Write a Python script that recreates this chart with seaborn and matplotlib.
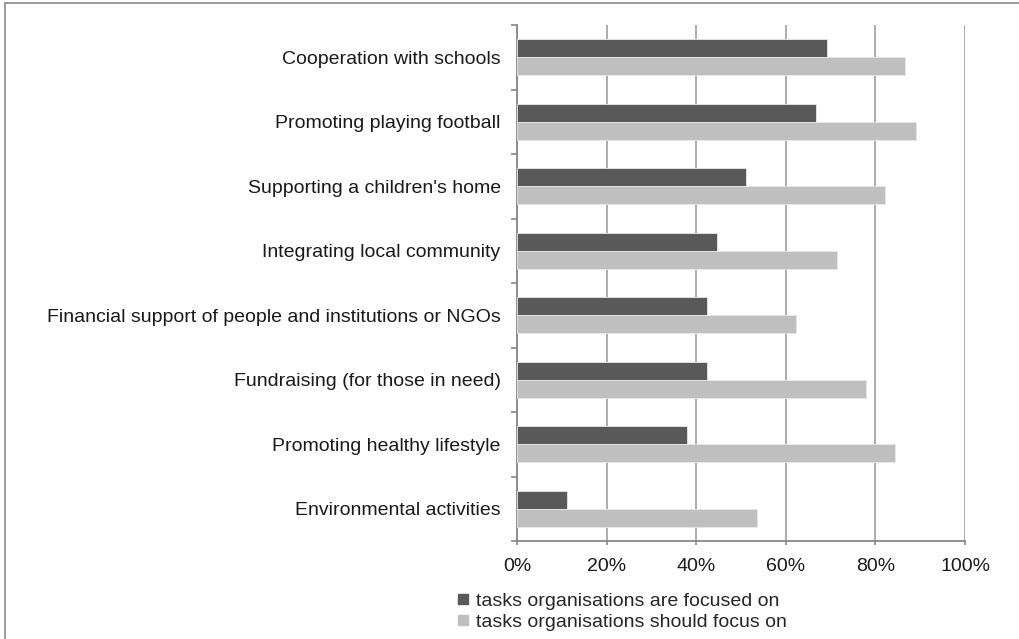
import matplotlib
matplotlib.use("Agg")
import matplotlib.pyplot as plt
import seaborn as sns
import pandas as pd
from matplotlib.lines import Line2D
from matplotlib.ticker import FixedLocator, PercentFormatter

categories = [
    "Cooperation with schools",
    "Promoting playing football",
    "Supporting a children's home",
    "Integrating local community",
    "Financial support of people and institutions or NGOs",
    "Fundraising (for those in need)",
    "Promoting healthy lifestyle",
    "Environmental activities",
]
focused_on = [69.1, 66.7, 51.1, 44.5, 42.4, 42.4, 38.0, 11.1]
should_focus_on = [86.6, 89.0, 82.2, 71.3, 62.3, 77.9, 84.4, 53.5]
series_names = ["tasks organisations are focused on",
                "tasks organisations should focus on"]
x_ticks = [0, 20, 40, 60, 80, 100]

df = pd.DataFrame({
    "category": categories * 2,
    "value": focused_on + should_focus_on,
    "series": [series_names[0]] * len(categories) + [series_names[1]] * len(categories),
})

sns.set_theme(style="white")
plt.rcParams["font.family"] = ["Liberation Sans", "DejaVu Sans"]
FS = 14

fig = plt.figure(figsize=(10.19, 6.39), dpi=100)
ax = fig.add_axes([517.3 / 1019, 1 - 541 / 639, (965 - 517.3) / 1019, (541 - 25) / 639])

palette = {series_names[0]: "#595959", series_names[1]: "#bfbfbf"}
sns.barplot(data=df, y="category", x="value", hue="series", order=categories,
            hue_order=series_names, palette=palette, orient="h", width=0.56,
            saturation=1, edgecolor="#e8e8e8", linewidth=0.6, ax=ax, zorder=3)

ax.set_xlim(0, 100)
ax.set_ylim(len(categories) - 0.5, -0.5)
ax.xaxis.set_major_locator(FixedLocator(x_ticks))
ax.xaxis.set_major_formatter(PercentFormatter(decimals=0))
ax.grid(axis="x", color="#a6a6a6", linewidth=1.3, zorder=0)
ax.grid(axis="y", visible=False)
ax.set_axisbelow(True)
ax.set_xlabel("")
ax.set_ylabel("")

for s in ["top", "right"]:
    ax.spines[s].set_visible(False)
for s in ["left", "bottom"]:
    ax.spines[s].set_color("#888888")
    ax.spines[s].set_linewidth(1.3)

ax.tick_params(axis="x", which="major", direction="out", length=3, width=1.2,
               color="#888888", labelsize=FS, labelcolor="#1a1a1a", pad=9, bottom=True)
ax.tick_params(axis="y", which="major", length=0, labelsize=FS,
               labelcolor="#1a1a1a", pad=12, left=True)
ax.yaxis.set_minor_locator(FixedLocator([i - 0.5 for i in range(len(categories) + 1)]))
ax.tick_params(axis="y", which="minor", direction="out", length=4, width=1.2,
               color="#888888", left=True)

if ax.get_legend() is not None:
    ax.get_legend().remove()
handles = [Line2D([], [], marker="s", linestyle="none", markersize=7.5,
                  markerfacecolor=palette[n], markeredgecolor=palette[n]) for n in series_names]
fig.legend(handles, series_names, loc="upper left",
           bbox_to_anchor=(456 / 1019, 1 - 592 / 639), frameon=False,
           fontsize=FS, handlelength=0.7, handletextpad=0.35, labelspacing=0.2,
           borderaxespad=0, borderpad=0)

# outer frame
fig.add_artist(Line2D([5 / 1019, 5 / 1019], [0, 1 - 2.5 / 639], transform=fig.transFigure,
                      color="#8a8a8a", linewidth=1.2))
fig.add_artist(Line2D([5 / 1019, 1], [1 - 2.5 / 639, 1 - 2.5 / 639], transform=fig.transFigure,
                      color="#8a8a8a", linewidth=1.2))

fig.savefig("out.png", dpi=100)
